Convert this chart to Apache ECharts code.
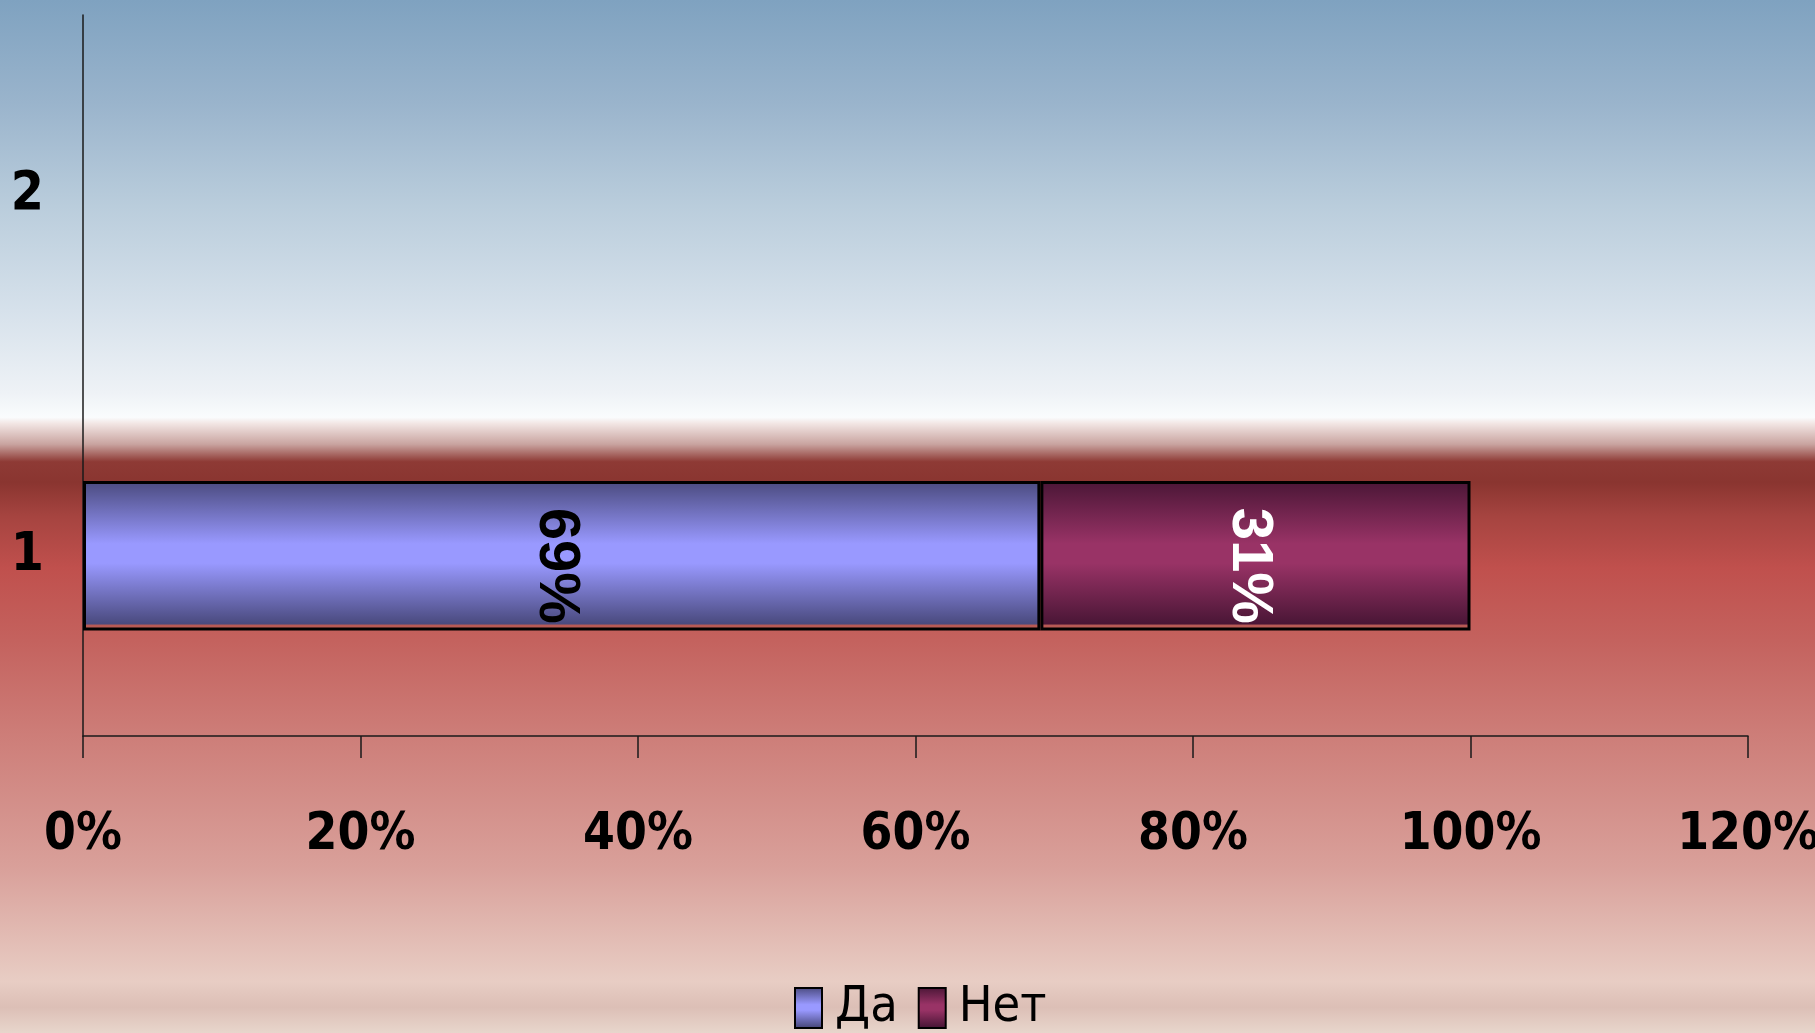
<!DOCTYPE html>
<html>
<head>
<meta charset="utf-8">
<script src="https://cdn.jsdelivr.net/npm/echarts@6/dist/echarts.min.js"></script>
<style>
html,body{margin:0;padding:0;width:100%;height:100%;overflow:hidden;}
#chart{width:1815px;height:1033px;}
</style>
</head>
<body>
<div id="chart"></div>
<script>
const categories = ['1', '2'];
const seriesNames = ['Да', 'Нет'];
const yesValues = [0.69, null];
const noValues = [0.31, null];
const xTicks = [0, 0.2, 0.4, 0.6, 0.8, 1.0, 1.2];

const NARROW = "'Liberation Sans Narrow', 'Arial Narrow', 'DejaVu Sans Condensed', sans-serif";

function barGrad(dark, mid) {
  return new echarts.graphic.LinearGradient(0, 0, 0, 1, [
    {offset: 0, color: dark},
    {offset: 0.42, color: mid},
    {offset: 0.55, color: mid},
    {offset: 0.955, color: dark},
    {offset: 0.965, color: '#b85a55'},
    {offset: 1, color: '#b85a55'}
  ]);
}

const bg = new echarts.graphic.LinearGradient(0, 0, 0, 1, [
  {offset: 0, color: '#7fa2c0'},
  {offset: 0.1, color: '#9ab4cc'},
  {offset: 0.2, color: '#bacddc'},
  {offset: 0.3, color: '#d6e1eb'},
  {offset: 0.38, color: '#eef2f6'},
  {offset: 0.404, color: '#fafcfd'},
  {offset: 0.41, color: '#f2e6e4'},
  {offset: 0.43, color: '#c9a4a0'},
  {offset: 0.447, color: '#8e3a35'},
  {offset: 0.467, color: '#8a3530'},
  {offset: 0.5, color: '#a64440'},
  {offset: 0.55, color: '#c0504d'},
  {offset: 0.62, color: '#c4625e'},
  {offset: 0.71, color: '#cd7d78'},
  {offset: 0.84, color: '#d9a09a'},
  {offset: 0.95, color: '#e8cdc4'},
  {offset: 0.975, color: '#dcbfb6'},
  {offset: 1, color: '#e8d6cc'}
]);

const chart = echarts.init(document.getElementById('chart'));
chart.setOption({
  backgroundColor: bg,
  animation: false,
  grid: {left: 83, right: 67, top: 15, bottom: 297, containLabel: false, outerBoundsMode: 'none'},
  legend: {
    data: seriesNames,
    left: 789,
    top: 978,
    icon: 'rect',
    itemWidth: 27,
    itemHeight: 40,
    itemGap: 20,
    textStyle: {fontFamily: NARROW, fontSize: 50, color: '#000', padding: [0, 0, 0, 8]}
  },
  xAxis: {
    type: 'value',
    min: 0,
    max: 1.2,
    interval: 0.2,
    axisLine: {show: true, lineStyle: {color: '#1a1a1a', width: 1.5}},
    axisTick: {show: true, inside: false, length: 22, lineStyle: {color: '#1a1a1a', width: 1.5}},
    splitLine: {show: false},
    axisLabel: {
      margin: 74,
      fontFamily: NARROW,
      fontWeight: 'bold',
      fontSize: 51,
      color: '#000',
      formatter: v => Math.round(v * 100) + '%'
    }
  },
  yAxis: {
    type: 'category',
    data: categories,
    axisLine: {show: true, lineStyle: {color: '#1a1a1a', width: 1.5}},
    axisTick: {show: false},
    axisLabel: {
      margin: 39,
      fontFamily: NARROW,
      fontWeight: 'bold',
      fontSize: 53,
      color: '#000'
    }
  },
  series: [
    {
      name: seriesNames[0],
      type: 'bar',
      stack: 'total',
      barWidth: '41.5%',
      data: yesValues,
      itemStyle: {color: barGrad('#4a4a7e', '#9999ff'), borderColor: '#000', borderWidth: 3},
      label: {
        show: true,
        position: 'inside',
        rotate: -90,
        offset: [10, 6],
        fontFamily: "'Liberation Sans', Arial, sans-serif",
        fontWeight: 'bold',
        fontSize: 58,
        color: '#000',
        formatter: p => Math.round(p.value * 100) + '%'
      }
    },
    {
      name: seriesNames[1],
      type: 'bar',
      stack: 'total',
      barWidth: '41.5%',
      data: noValues,
      itemStyle: {color: barGrad('#4a1636', '#993366'), borderColor: '#000', borderWidth: 3},
      label: {
        show: true,
        position: 'inside',
        rotate: -90,
        offset: [10, 6],
        fontFamily: "'Liberation Sans', Arial, sans-serif",
        fontWeight: 'bold',
        fontSize: 58,
        color: '#fff',
        formatter: p => Math.round(p.value * 100) + '%'
      }
    }
  ]
});
</script>
</body>
</html>
